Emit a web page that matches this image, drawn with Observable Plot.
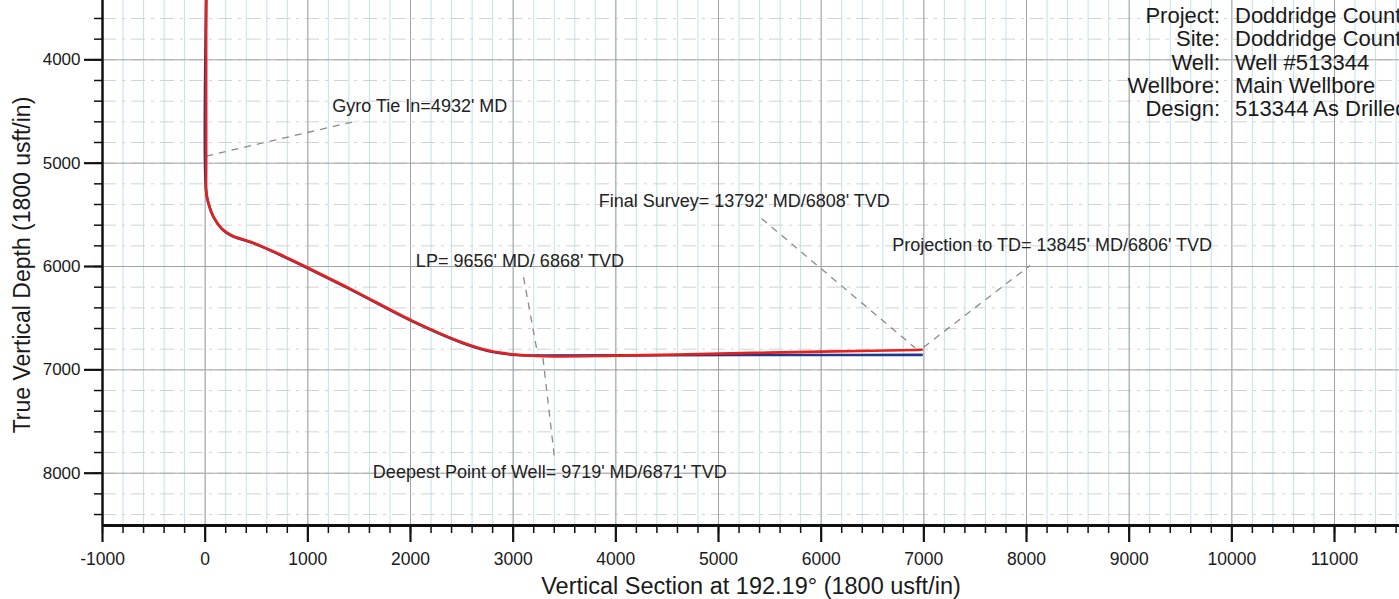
<!DOCTYPE html>
<html><head><meta charset="utf-8">
<script src="https://cdn.jsdelivr.net/npm/d3@7"></script>
<script src="https://cdn.jsdelivr.net/npm/@observablehq/plot@0.6"></script>
<style>
html,body{margin:0;padding:0;background:#fff;overflow:hidden;}
#wrap{position:relative;width:1399px;height:599px;overflow:hidden;font-family:"Liberation Sans",Arial,sans-serif;}
#wrap svg{position:absolute;left:0;top:0;}
#info{position:absolute;left:0;top:4px;width:1399px;font-size:22px;line-height:23.3px;color:#1a1a1a;white-space:nowrap;}
#info .row{position:relative;height:23.3px;}
#info .k{position:absolute;right:179px;text-align:right;}
#info .v{position:absolute;left:1235px;}
</style></head><body><div id="wrap"><div id="info"></div></div>
<script>
// Actual survey (red)
const actualVS  = [10, 10, 12, 33, 82, 163, 260, 455, 715, 990, 1461, 2013, 2500, 2760, 3019, 3300, 4000, 4600, 5324, 6000, 6500, 6920, 6979];
const actualTVD = [3426, 5000, 5281, 5393, 5523, 5635, 5700, 5765, 5877, 6007, 6240, 6523, 6733, 6813, 6852, 6869, 6862, 6852, 6836, 6824, 6815, 6808, 6806];
// Plan (blue)
const planVS  = [10, 10, 35, 85, 165, 262, 460, 720, 995, 1465, 2018, 2505, 2765, 3025, 3300, 4500, 6000, 6979];
const planTVD = [3426, 5285, 5398, 5528, 5641, 5706, 5771, 5884, 6014, 6247, 6530, 6740, 6820, 6856, 6862, 6858, 6856, 6855];

const xMajor = [-1000, 0, 1000, 2000, 3000, 4000, 5000, 6000, 7000, 8000, 9000, 10000, 11000];
const yMajor = [4000, 5000, 6000, 7000, 8000];
const xMinor = d3.range(-1000, 11601, 200);
const yMinor = d3.range(3600, 8401, 200);
const xDomain = [-1000, 11633];
const yDomain = [3426, 8506];

const noteText = [
  "Gyro Tie In=4932' MD",
  "LP= 9656' MD/ 6868' TVD",
  "Deepest Point of Well= 9719' MD/6871' TVD",
  "Final Survey= 13792' MD/6808' TVD",
  "Projection to TD= 13845' MD/6806' TVD"
];
const noteVS  = [2091, 3066, 3357, 5251, 8250];
const noteTVD = [4453, 5949, 7990, 5371, 5797];
// leader lines: from (vs1,tvd1) to (vs2,tvd2)
const leadVS1  = [10, 3101, 3290, 5420, 6998];
const leadTVD1 = [4932, 6103, 6885, 5536, 6781];
const leadVS2  = [1493, 3240, 3400, 6915, 8034];
const leadTVD2 = [4588, 6858, 7830, 6787, 5990];

const infoKeys = ["Project:", "Site:", "Well:", "Wellbore:", "Design:"];
const infoVals = ["Doddridge County", "Doddridge County", "Well #513344", "Main Wellbore", "513344 As Drilled"];

const xLabel = "Vertical Section at 192.19\u00b0 (1800 usft/in)";
const yLabel = "True Vertical Depth (1800 usft/in)";

const actual = actualVS.map((v, i) => ({vs: v, tvd: actualTVD[i]}));
const plan = planVS.map((v, i) => ({vs: v, tvd: planTVD[i]}));
const notes = noteText.map((t, i) => ({t, vs: noteVS[i], tvd: noteTVD[i]}));
const leads = leadVS1.map((v, i) => ({x1: v, y1: leadTVD1[i], x2: leadVS2[i], y2: leadTVD2[i]}));
const fmt = d => String(d);

const chart = Plot.plot({
  width: 1399, height: 599,
  marginLeft: 102, marginRight: 0, marginTop: 0, marginBottom: 74,
  style: {fontFamily: "Liberation Sans, Arial, sans-serif", background: "transparent", color: "#1a1a1a"},
  x: {domain: xDomain},
  y: {domain: yDomain, reverse: true},
  marks: [
    Plot.ruleX(xMinor, {stroke: "#c0e2ea", strokeWidth: 1}),
    Plot.ruleY(yMinor, {stroke: "#d2d2d2", strokeWidth: 1, strokeDasharray: "14,6,3,6"}),
    Plot.ruleX(xMajor.filter(d => d > -1000), {stroke: "#a2a2a2", strokeWidth: 1}),
    Plot.ruleY(yMajor, {stroke: "#a2a2a2", strokeWidth: 1}),
    Plot.link(leads, {x1: "x1", y1: "y1", x2: "x2", y2: "y2", stroke: "#8a8a8a", strokeWidth: 1.3, strokeDasharray: "7,6"}),
    Plot.line(plan, {x: "vs", y: "tvd", stroke: "#22358f", strokeWidth: 2.6, curve: "catmull-rom", clip: true}),
    Plot.line(actual, {x: "vs", y: "tvd", stroke: "#e5211b", strokeWidth: 2.6, curve: "catmull-rom", clip: true}),
    Plot.text(notes, {x: "vs", y: "tvd", text: "t", fontSize: 18, fill: "#222"}),
    Plot.ruleY([yDomain[1]], {stroke: "#111", strokeWidth: 3}),
    Plot.ruleX([xDomain[0]], {stroke: "#111", strokeWidth: 2.5}),
    Plot.axisX({ticks: xMinor, tickSize: 8, tickFormat: () => "", stroke: "#111", strokeWidth: 1.5, label: null}),
    Plot.axisX({ticks: xMajor, tickSize: 17, tickPadding: 10, tickFormat: fmt, fontSize: 17.5, stroke: "#111", strokeWidth: 2.2, label: null}),
    Plot.axisY({ticks: yMinor, tickSize: 8, tickFormat: () => "", stroke: "#111", strokeWidth: 1.5, label: null}),
    Plot.axisY({ticks: yMajor, tickSize: 18, tickPadding: 4, tickFormat: fmt, fontSize: 17, stroke: "#111", strokeWidth: 2.2, label: null}),
    Plot.text([xLabel], {frameAnchor: "bottom", dy: 61, lineAnchor: "middle", textAnchor: "middle", fontSize: 23.5, fill: "#1a1a1a"}),
    Plot.text([yLabel], {frameAnchor: "left", rotate: -90, dx: -80, dy: 2, lineAnchor: "middle", textAnchor: "middle", fontSize: 23, fill: "#1a1a1a"})
  ]
});
const wrap = document.getElementById("wrap");
wrap.insertBefore(chart, wrap.firstChild);
const info = document.getElementById("info");
infoKeys.forEach((k, i) => {
  const row = document.createElement("div");
  row.className = "row";
  row.innerHTML = `<span class="k">${k}</span><span class="v">${infoVals[i]}</span>`;
  info.appendChild(row);
});
</script>
</body></html>
